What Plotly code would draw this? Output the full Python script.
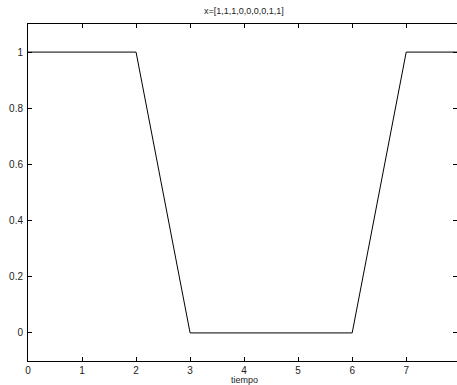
import plotly.graph_objects as go

# signal samples over time
tiempo = [0, 1, 2, 3, 4, 5, 6, 7, 8]
x_vals = [1, 1, 1, 0, 0, 0, 0, 1, 1]
x_ticks = [0, 1, 2, 3, 4, 5, 6, 7, 8]
y_ticks = [0, 0.2, 0.4, 0.6, 0.8, 1]
y_tick_text = ["0", "0.2", "0.4", "0.6", "0.8", "1"]
title_text = "x=[1,1,1,0,0,0,0,1,1]"
xlabel_text = "tiempo"

font = dict(family="Liberation Sans, Arial, sans-serif", size=10, color="#222")

fig = go.Figure()
fig.add_trace(go.Scatter(x=tiempo, y=x_vals, mode="lines",
                         line=dict(color="black", width=1), showlegend=False,
                         hoverinfo="skip"))
# invisible copy so the mirrored top/right axes get drawn
fig.add_trace(go.Scatter(x=tiempo, y=x_vals, mode="lines", xaxis="x2", yaxis="y2",
                         line=dict(color="rgba(0,0,0,0)", width=0), showlegend=False,
                         hoverinfo="skip"))

xr = [0, 7.94]
yr = [-0.1, 1.1]
common = dict(showgrid=False, zeroline=False, ticks="inside", ticklen=4,
              tickcolor="black", tickwidth=1, linecolor="black", linewidth=1)

fig.update_layout(
    width=457, height=385,
    margin=dict(l=28, r=0, t=24, b=24),
    paper_bgcolor="white", plot_bgcolor="white",
    font=font,
    xaxis=dict(range=xr, tickvals=x_ticks, ticktext=[str(v) for v in x_ticks],
               showline=True, ticklabelstandoff=0, **common),
    yaxis=dict(range=yr, tickvals=y_ticks, ticktext=y_tick_text,
               showline=True, ticklabelstandoff=2, **common),
    xaxis2=dict(range=xr, overlaying="x", side="top", tickvals=x_ticks,
                showticklabels=False, showline=True, **common),
    yaxis2=dict(range=yr, overlaying="y", side="right", tickvals=y_ticks,
                showticklabels=False, showline=False, **common),
    annotations=[
        dict(text=title_text, x=4, xref="x", y=1, yref="paper", yanchor="bottom",
             yshift=6, showarrow=False, font=dict(size=9, color="#222")),
        dict(text=xlabel_text, x=4, xref="x", y=0, yref="paper", yanchor="top",
             yshift=-12.5, showarrow=False, font=dict(size=9, color="#222"),
             borderpad=0),
    ],
)

fig.write_html("out.html")
